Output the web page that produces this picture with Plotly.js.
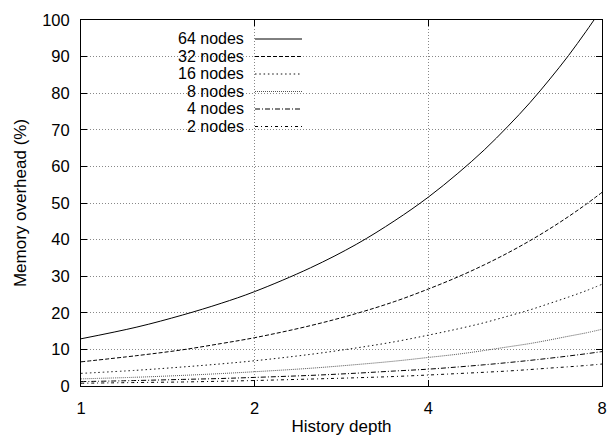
<!DOCTYPE html>
<html>
<head>
<meta charset="utf-8">
<script src="https://cdn.plot.ly/plotly-3.0.1.min.js"></script>
<style>html,body{margin:0;padding:0;background:#fff;}#chart{width:607px;height:440px;}</style>
</head>
<body>
<div id="chart"></div>
<script>
// History depth (x) and memory overhead (%) per cluster size
const depth = [1, 1.25, 1.5, 1.75, 2, 2.5, 3, 3.5, 4, 4.5, 5, 5.5, 6, 6.5, 7, 7.5, 8];
const seriesNames = ["64 nodes", "32 nodes", "16 nodes", "8 nodes", "4 nodes", "2 nodes"];
const nodes64 = [12.9, 16.1, 19.4, 22.6, 25.8, 32.3, 38.7, 45.2, 51.6, 58.1, 64.5, 71.0, 77.4, 83.9, 90.3, 96.8, 103.2];
const nodes32 = [6.6, 8.3, 9.9, 11.6, 13.2, 16.5, 19.8, 23.1, 26.5, 29.8, 33.1, 36.4, 39.7, 43.0, 46.3, 49.6, 52.9];
const nodes16 = [3.45, 4.3, 5.2, 6.05, 6.9, 8.65, 10.4, 12.1, 13.9, 15.6, 17.3, 19.1, 20.8, 22.6, 24.3, 26.0, 27.8];
const nodes8 = [1.95, 2.4, 2.9, 3.4, 3.9, 4.85, 5.85, 6.8, 7.8, 8.7, 9.7, 10.7, 11.6, 12.6, 13.6, 14.5, 15.5];
const nodes4 = [1.2, 1.5, 1.8, 2.05, 2.35, 2.9, 3.5, 4.1, 4.6, 5.2, 5.8, 6.4, 7.0, 7.6, 8.2, 8.8, 9.4];
const nodes2 = [0.75, 0.95, 1.1, 1.3, 1.5, 1.9, 2.25, 2.6, 3.0, 3.4, 3.75, 4.1, 4.5, 4.9, 5.25, 5.6, 6.0];
const xTicks = [1, 2, 4, 8];
const yTicks = [0, 10, 20, 30, 40, 50, 60, 70, 80, 90, 100];

const allSeries = [nodes64, nodes32, nodes16, nodes8, nodes4, nodes2];
const dashes = ["solid", "4px,2px", "1.5px,2.8px", "1px,1px", "5px,2px,1px,2px", "3px,3px,1px,3px"];
const colors = ["#000", "#000", "#111", "#555", "#000", "#000"];

const traces = allSeries.map((ys, i) => ({
  x: depth, y: ys, type: "scatter", mode: "lines", name: seriesNames[i],
  line: {color: colors[i], width: 1, dash: dashes[i], shape: "spline", smoothing: 1},
  showlegend: false, cliponaxis: true
}));

// Plot area geometry for the hand-built gnuplot-style legend
const L = 81, R = 5, T = 20, B = 54, W = 607, H = 440;
const pw = W - L - R, ph = H - T - B;
const px = v => (v - L) / pw;
const py = v => 1 - (v - T) / ph;
const rowY = [39, 56.5, 74, 91.5, 109, 126.5];
const fam = "Liberation Sans, Arial, sans-serif";

const shapes = [{
  type: "rect", xref: "paper", yref: "paper", layer: "between",
  x0: px(160), x1: px(312), y0: py(27), y1: py(134),
  fillcolor: "#fff", line: {width: 0}
}];
const annotations = [];
seriesNames.forEach((n, i) => {
  annotations.push({
    xref: "paper", yref: "paper", x: px(245), y: py(rowY[i]), xanchor: "right", yanchor: "middle",
    text: n, showarrow: false, borderpad: 0, font: {family: fam, size: 16, color: "#000"}
  });
  shapes.push({
    type: "line", xref: "paper", yref: "paper", layer: "above",
    x0: px(255), x1: px(302), y0: py(rowY[i]), y1: py(rowY[i]),
    line: {color: colors[i], width: 1, dash: dashes[i]}
  });
});

const tickFont = {family: fam, size: 16.5, color: "#000"};
const titleFont = {family: fam, size: 17, color: "#000"};
const layout = {
  width: W, height: H,
  margin: {l: L, r: R, t: T, b: B},
  paper_bgcolor: "#fff", plot_bgcolor: "#fff",
  font: tickFont,
  showlegend: false,
  xaxis: {
    type: "log", range: [0, Math.log10(8)], tickvals: xTicks, ticktext: xTicks.map(String),
    showline: true, linecolor: "#000", linewidth: 1, mirror: "ticks",
    ticks: "inside", ticklen: 6, tickcolor: "#000", ticklabelstandoff: 7,
    showgrid: true, gridcolor: "#888", griddash: "1px,2px", gridwidth: 1,
    zeroline: false, tickfont: tickFont, automargin: false,
    title: {text: "History depth", font: titleFont, standoff: 4}
  },
  yaxis: {
    range: [0, 100], tickvals: yTicks,
    showline: true, linecolor: "#000", linewidth: 1, mirror: "ticks",
    ticks: "inside", ticklen: 6, tickcolor: "#000", ticklabelstandoff: 7,
    showgrid: true, gridcolor: "#888", griddash: "1px,2px", gridwidth: 1,
    zeroline: false, tickfont: tickFont, automargin: false,
    title: {text: "Memory overhead (%)", font: titleFont, standoff: 11}
  },
  shapes: shapes,
  annotations: annotations
};
Plotly.newPlot("chart", traces, layout, {displayModeBar: false, staticPlot: true});
</script>
</body>
</html>
